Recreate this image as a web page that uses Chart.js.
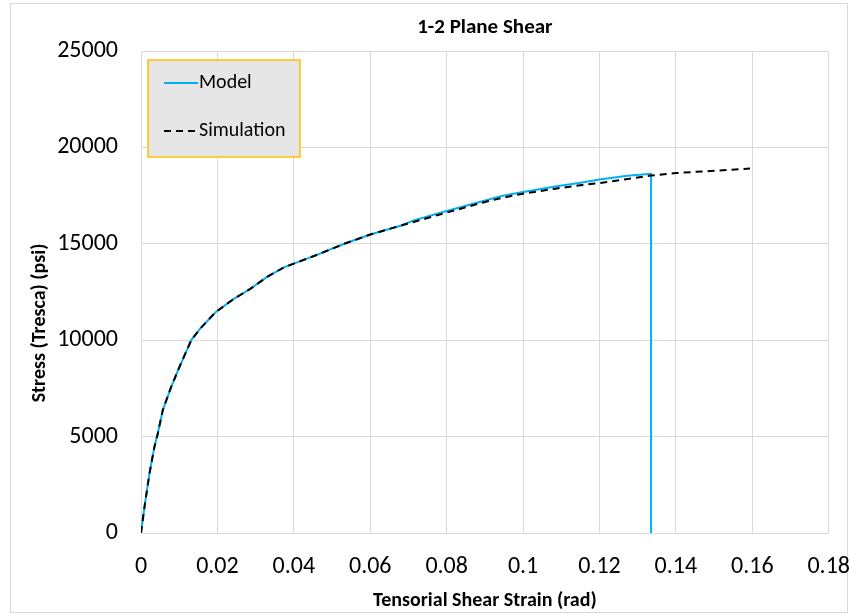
<!DOCTYPE html>
<html>
<head>
<meta charset="utf-8">
<script src="https://cdn.jsdelivr.net/npm/chart.js@4"></script>
<style>
  html, body { margin: 0; padding: 0; background: #fff; }
  #wrap { position: relative; width: 850px; height: 615px; }
</style>
</head>
<body>
<div id="wrap"><canvas id="shear-chart" width="850" height="615"></canvas></div>
<script>
// 1-2 plane shear: model vs simulation (strain in rad, stress in psi)
const modelStrain = [0, 0.0009, 0.0022, 0.0035, 0.0044, 0.0057, 0.0079, 0.0101, 0.0132, 0.0155, 0.0195,
    0.0242, 0.0286, 0.033, 0.0374, 0.04, 0.0462, 0.0532, 0.06, 0.0681, 0.0716, 0.08, 0.0891, 0.0944,
    0.1, 0.1084, 0.1155, 0.12, 0.1273, 0.1335, 0.1335];
const modelStress = [0, 1330, 3070, 4460, 5160, 6370, 7580, 8630, 10020, 10600, 11450,
    12130, 12660, 13280, 13780, 13970, 14440, 15000, 15480, 15950, 16230, 16700, 17190, 17480,
    17690, 17970, 18180, 18330, 18530, 18630, 0];

const simStrain = [0, 0.0009, 0.0022, 0.0035, 0.0044, 0.0057, 0.0079, 0.0101, 0.0132, 0.0155, 0.0195,
    0.0242, 0.0286, 0.033, 0.0374, 0.04, 0.0462, 0.0532, 0.06, 0.0681, 0.08, 0.0891, 0.0944,
    0.1, 0.1084, 0.1155, 0.12, 0.1335, 0.14, 0.1594];
const simStress = [0, 1330, 3070, 4460, 5160, 6370, 7580, 8630, 10020, 10600, 11450,
    12130, 12660, 13280, 13780, 13970, 14440, 15000, 15480, 15950, 16620, 17120, 17380,
    17600, 17860, 18050, 18150, 18540, 18670, 18900];

const xTicks = [0, 0.02, 0.04, 0.06, 0.08, 0.1, 0.12, 0.14, 0.16, 0.18];
const yTicks = [0, 5000, 10000, 15000, 20000, 25000];

const chartTitle = '1-2 Plane Shear';
const xTitle = 'Tensorial Shear Strain (rad)';
const yTitle = 'Stress (Tresca) (psi)';

const FONT = 'Carlito, Calibri, Lato, sans-serif';
const GRID = '#d9d9d9';

function toPoints(xs, ys)
{
    return xs.map((x, i) => ({ x: x, y: ys[i] }));
}

// outer frame, titles and the boxed legend
const decorations = {
    id: 'decorations',
    beforeDraw(chart) {
        const ctx = chart.ctx;
        ctx.save();
        ctx.strokeStyle = GRID;
        ctx.lineWidth = 1;
        ctx.strokeRect(10.5, 3.5, 837, 609);
        ctx.restore();
    },
    afterDraw(chart) {
        const ctx = chart.ctx;
        const area = chart.chartArea;
        const midX = (area.left + area.right) / 2;
        ctx.save();
        ctx.fillStyle = '#000';
        ctx.textAlign = 'center';
        ctx.textBaseline = 'middle';

        ctx.font = 'bold 21px ' + FONT;
        ctx.fillText(chartTitle, midX, 28);

        ctx.font = 'bold 20px ' + FONT;
        ctx.fillText(xTitle, midX, 601);

        ctx.translate(40, 323);
        ctx.rotate(-Math.PI / 2);
        ctx.fillText(yTitle, 0, 0);
        ctx.restore();

        // legend box
        ctx.save();
        ctx.fillStyle = '#e6e6e6';
        ctx.fillRect(148, 60, 152, 97);
        ctx.strokeStyle = '#ffc000';
        ctx.lineWidth = 1.5;
        ctx.strokeRect(148, 60, 152, 97);

        const rows = [83, 131];
        chart.data.datasets.forEach((ds, i) => {
            const y = rows[i];
            ctx.beginPath();
            ctx.strokeStyle = ds.borderColor;
            ctx.lineWidth = ds.borderWidth;
            ctx.setLineDash(ds.borderDash || []);
            ctx.moveTo(164, y);
            ctx.lineTo(198, y);
            ctx.stroke();
            ctx.setLineDash([]);
            ctx.fillStyle = '#000';
            ctx.font = '20px ' + FONT;
            ctx.textAlign = 'left';
            ctx.textBaseline = 'middle';
            ctx.fillText(ds.label, 199, y);
        });
        ctx.restore();
    }
};

const config = {
    type: 'line',
    data: {
        datasets: [
            {
                label: 'Model',
                data: toPoints(modelStrain, modelStress),
                borderColor: '#00b0f0',
                borderWidth: 2,
                pointRadius: 0,
                tension: 0,
                order: 2
            },
            {
                label: 'Simulation',
                data: toPoints(simStrain, simStress),
                borderColor: '#000000',
                borderWidth: 2,
                borderDash: [7, 5],
                pointRadius: 0,
                tension: 0,
                order: 1
            }
        ]
    },
    options: {
        responsive: false,
        animation: false,
        layout: {
            padding: { top: 51, right: 0, left: 0, bottom: 0 }
        },
        scales: {
            x: {
                type: 'linear',
                min: 0,
                max: 0.18,
                afterBuildTicks: (scale) => { scale.ticks = xTicks.map(v => ({ value: v })); },
                afterFit: (scale) => { scale.height = 82; },
                // invisible tick marks push the labels down without widening the side padding
                grid: { color: GRID, drawTicks: true, tickLength: 20, tickColor: 'rgba(0,0,0,0)' },
                border: { color: GRID },
                ticks: {
                    padding: 0,
                    color: '#000',
                    font: { family: FONT, size: 24 },
                    maxRotation: 0,
                    callback: (v) => String(+v.toFixed(2))
                }
            },
            y: {
                min: 0,
                max: 25000,
                afterBuildTicks: (scale) => { scale.ticks = yTicks.map(v => ({ value: v })); },
                afterFit: (scale) => { scale.width = 141; },
                grid: { color: GRID, drawTicks: false },
                border: { color: GRID },
                ticks: {
                    padding: 23,
                    color: '#000',
                    font: { family: FONT, size: 24 },
                    callback: (v) => String(v)
                }
            }
        },
        plugins: {
            legend: { display: false },
            tooltip: { enabled: false }
        }
    },
    plugins: [decorations]
};

new Chart(document.getElementById('shear-chart'), config);
</script>
</body>
</html>
